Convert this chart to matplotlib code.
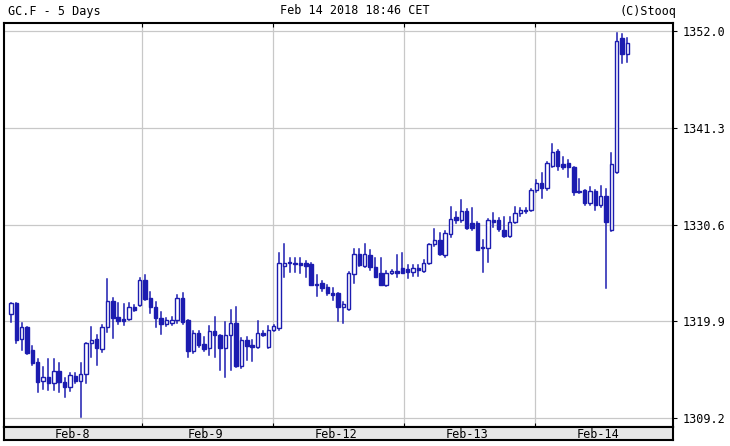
import matplotlib
matplotlib.use("Agg")
import matplotlib.pyplot as plt
from matplotlib.patches import Rectangle

# 5 days of gold futures candles
opens = [1320.7, 1321.9, 1317.9, 1319.3, 1316.7, 1315.4, 1313.3, 1313.7, 1313.1, 1314.4,
         1313.2, 1312.6, 1313.8, 1313.3, 1314.1, 1317.5, 1317.9, 1316.8, 1319.3, 1322.1,
         1320.4, 1320.1, 1320.1, 1321.5, 1321.7, 1324.5, 1322.5, 1321.5, 1320.3, 1319.6,
         1319.7, 1320.0, 1322.5, 1320.0, 1316.6, 1318.6, 1317.4, 1316.9, 1318.8, 1318.4,
         1316.9, 1318.4, 1319.7, 1314.9, 1317.8, 1317.3, 1317.1, 1318.6, 1317.1, 1318.9,
         1319.1, 1326.0, 1326.4, 1326.4, 1326.3, 1326.3, 1326.2, 1324.0, 1324.1, 1323.7,
         1323.0, 1323.0, 1321.5, 1321.3, 1325.1, 1327.3, 1326.0, 1327.2, 1325.9, 1325.2,
         1323.9, 1325.2, 1325.5, 1325.8, 1325.7, 1325.3, 1325.8, 1325.5, 1326.3, 1328.4,
         1328.9, 1327.2, 1329.5, 1331.4, 1331.1, 1332.1, 1330.8, 1330.8, 1328.1, 1328.0,
         1331.1, 1331.1, 1330.0, 1329.3, 1330.9, 1331.9, 1332.2, 1332.2, 1334.4, 1335.2,
         1334.6, 1337.1, 1338.7, 1337.3, 1337.4, 1337.0, 1334.3, 1334.4, 1333.0, 1334.3,
         1332.8, 1333.8, 1330.0, 1336.4, 1351.2, 1349.5]
highs = [1321.9, 1321.9, 1319.7, 1319.3, 1317.2, 1315.7, 1314.8, 1315.7, 1315.7, 1315.3,
         1313.6, 1314.2, 1314.2, 1315.3, 1317.5, 1319.3, 1318.4, 1319.5, 1324.6, 1322.5,
         1321.9, 1321.8, 1321.9, 1321.7, 1324.7, 1325.0, 1323.1, 1322.0, 1320.9, 1320.3,
         1320.4, 1322.8, 1323.0, 1320.0, 1318.8, 1318.8, 1318.2, 1319.4, 1320.4, 1318.4,
         1319.8, 1321.1, 1321.5, 1318.1, 1318.2, 1317.8, 1319.9, 1318.8, 1319.4, 1319.5,
         1327.4, 1328.4, 1326.9, 1326.9, 1326.9, 1326.6, 1326.3, 1325.0, 1324.4, 1323.9,
         1323.6, 1323.0, 1322.0, 1325.3, 1327.9, 1327.9, 1328.5, 1327.8, 1326.9, 1326.9,
         1325.5, 1325.6, 1327.2, 1327.4, 1326.1, 1326.1, 1326.1, 1326.7, 1328.5, 1330.1,
         1329.7, 1329.9, 1332.5, 1332.0, 1333.3, 1332.3, 1332.4, 1330.9, 1328.9, 1331.2,
         1331.9, 1331.3, 1331.4, 1331.4, 1332.5, 1332.4, 1332.4, 1334.5, 1335.5, 1336.3,
         1337.5, 1339.5, 1338.9, 1338.1, 1337.7, 1337.0, 1335.6, 1334.4, 1334.7, 1334.4,
         1334.9, 1334.5, 1338.5, 1351.8, 1351.7, 1351.2]
lows = [1319.8, 1317.5, 1316.7, 1316.3, 1315.1, 1312.1, 1312.4, 1312.3, 1312.3, 1312.1,
        1311.5, 1312.2, 1313.1, 1309.3, 1313.1, 1315.9, 1315.1, 1316.5, 1318.7, 1318.1,
        1319.6, 1319.5, 1320.0, 1321.0, 1321.6, 1322.3, 1320.8, 1319.3, 1318.5, 1319.4,
        1319.5, 1319.7, 1319.6, 1315.9, 1316.4, 1317.0, 1316.6, 1316.2, 1316.0, 1314.5,
        1313.7, 1314.5, 1314.8, 1314.7, 1315.6, 1315.5, 1316.9, 1318.3, 1316.9, 1318.8,
        1318.9, 1324.8, 1325.3, 1325.3, 1325.2, 1324.8, 1323.9, 1322.7, 1323.2, 1322.8,
        1322.3, 1319.9, 1319.7, 1321.1, 1324.1, 1326.0, 1325.9, 1325.6, 1324.8, 1323.9,
        1323.8, 1325.1, 1324.8, 1325.2, 1324.7, 1324.9, 1324.9, 1325.3, 1326.2, 1328.2,
        1327.2, 1327.0, 1329.2, 1330.8, 1330.9, 1330.1, 1330.0, 1327.8, 1325.3, 1326.5,
        1330.3, 1329.9, 1329.2, 1329.2, 1330.8, 1331.6, 1331.9, 1332.1, 1334.2, 1333.5,
        1334.4, 1337.0, 1336.6, 1336.8, 1335.9, 1333.9, 1334.1, 1332.8, 1332.8, 1332.2,
        1332.5, 1323.6, 1329.9, 1336.3, 1348.5, 1348.6]
closes = [1321.9, 1317.8, 1319.3, 1316.4, 1315.3, 1313.2, 1313.7, 1313.1, 1314.4, 1313.2,
          1312.6, 1313.9, 1313.3, 1314.1, 1317.5, 1317.8, 1316.9, 1319.3, 1322.1, 1320.3,
          1319.9, 1319.9, 1321.5, 1321.1, 1324.5, 1322.4, 1321.5, 1320.3, 1319.6, 1320.0,
          1320.0, 1322.5, 1319.8, 1316.6, 1318.6, 1317.3, 1316.8, 1318.8, 1318.4, 1316.9,
          1318.4, 1319.7, 1314.9, 1317.8, 1317.2, 1317.1, 1318.6, 1318.4, 1318.9, 1319.4,
          1326.3, 1326.4, 1326.3, 1326.2, 1326.1, 1326.0, 1323.9, 1323.9, 1323.6, 1323.0,
          1322.8, 1321.5, 1321.8, 1325.2, 1327.3, 1326.1, 1327.3, 1325.9, 1324.8, 1323.9,
          1325.2, 1325.5, 1325.2, 1325.2, 1325.3, 1325.8, 1325.6, 1326.4, 1328.4, 1328.9,
          1327.3, 1329.7, 1331.2, 1331.1, 1332.1, 1330.2, 1330.2, 1327.8, 1328.0, 1331.1,
          1330.9, 1330.1, 1329.3, 1330.9, 1331.9, 1332.2, 1332.1, 1334.4, 1335.2, 1334.6,
          1337.4, 1338.6, 1337.1, 1337.0, 1337.0, 1334.2, 1334.2, 1333.0, 1334.3, 1332.8,
          1333.8, 1330.9, 1337.3, 1350.9, 1349.5, 1350.7]

y_ticks = [1309.2, 1319.9, 1330.6, 1341.3, 1352.0]
day_labels = ["Feb-8", "Feb-9", "Feb-12", "Feb-13", "Feb-14"]
day_bounds = [24.4, 48.9, 73.3, 97.8]
label_pos = [11.4, 36.2, 60.6, 85.1, 109.5]

blue = "#1c1cb0"
font = "DejaVu Sans Mono"

fig = plt.figure(figsize=(7.30, 4.46), dpi=100)
W, H = 730, 446
ax = fig.add_axes([4 / W, 1 - 427 / H, 669 / W, 404 / H])
strip = fig.add_axes([4 / W, 1 - 440 / H, 669 / W, 13 / H])

xmin, xmax = -1.3, 123.5
for i in range(len(opens)):
    o, h, l, c = opens[i], highs[i], lows[i], closes[i]
    ax.plot([i, i], [l, h], color=blue, lw=1.1, zorder=3)
    up = c >= o
    bot = min(o, c)
    ht = max(abs(c - o), 0.15)
    ax.add_patch(Rectangle((i - 0.32, bot), 0.64, ht,
                           facecolor="white" if up else blue,
                           edgecolor=blue, lw=1.0, zorder=4))

ax.set_xlim(xmin, xmax)
ax.set_ylim(1308.2, 1352.9)
ax.set_yticks(y_ticks)
ax.set_yticklabels([f"{v:.1f}" for v in y_ticks], fontfamily=font, fontsize=8.5)
ax.yaxis.tick_right()
ax.tick_params(axis="y", length=3, pad=4)
ax.set_xticks(day_bounds)
ax.tick_params(axis="x", length=0, labelbottom=False)
ax.tick_params(axis="x", which="both", top=True, length=3, direction="in")
ax.grid(True, color="#c8c8c8", lw=0.9)
for s in ax.spines.values():
    s.set_linewidth(1.5)

strip.set_facecolor("#e6e6e6")
strip.set_xlim(xmin, xmax)
strip.set_ylim(0, 1)
strip.set_yticks([])
strip.set_xticks([])
for s in strip.spines.values():
    s.set_linewidth(1.5)
for p, lab in zip(label_pos, day_labels):
    strip.text(p, 0.45, lab, ha="center", va="center", fontfamily=font, fontsize=8.5)

fig.text(8 / W, 1 - 11 / H, "GC.F - 5 Days", fontfamily=font, fontsize=8.5, va="center")
fig.text(355 / W, 1 - 11 / H, "Feb 14 2018 18:46 CET", fontfamily=font, fontsize=8.5,
         va="center", ha="center")
fig.text(676 / W, 1 - 11 / H, "(C)Stooq", fontfamily=font, fontsize=8.5, va="center",
         ha="right")

fig.savefig("out.png", dpi=100)
